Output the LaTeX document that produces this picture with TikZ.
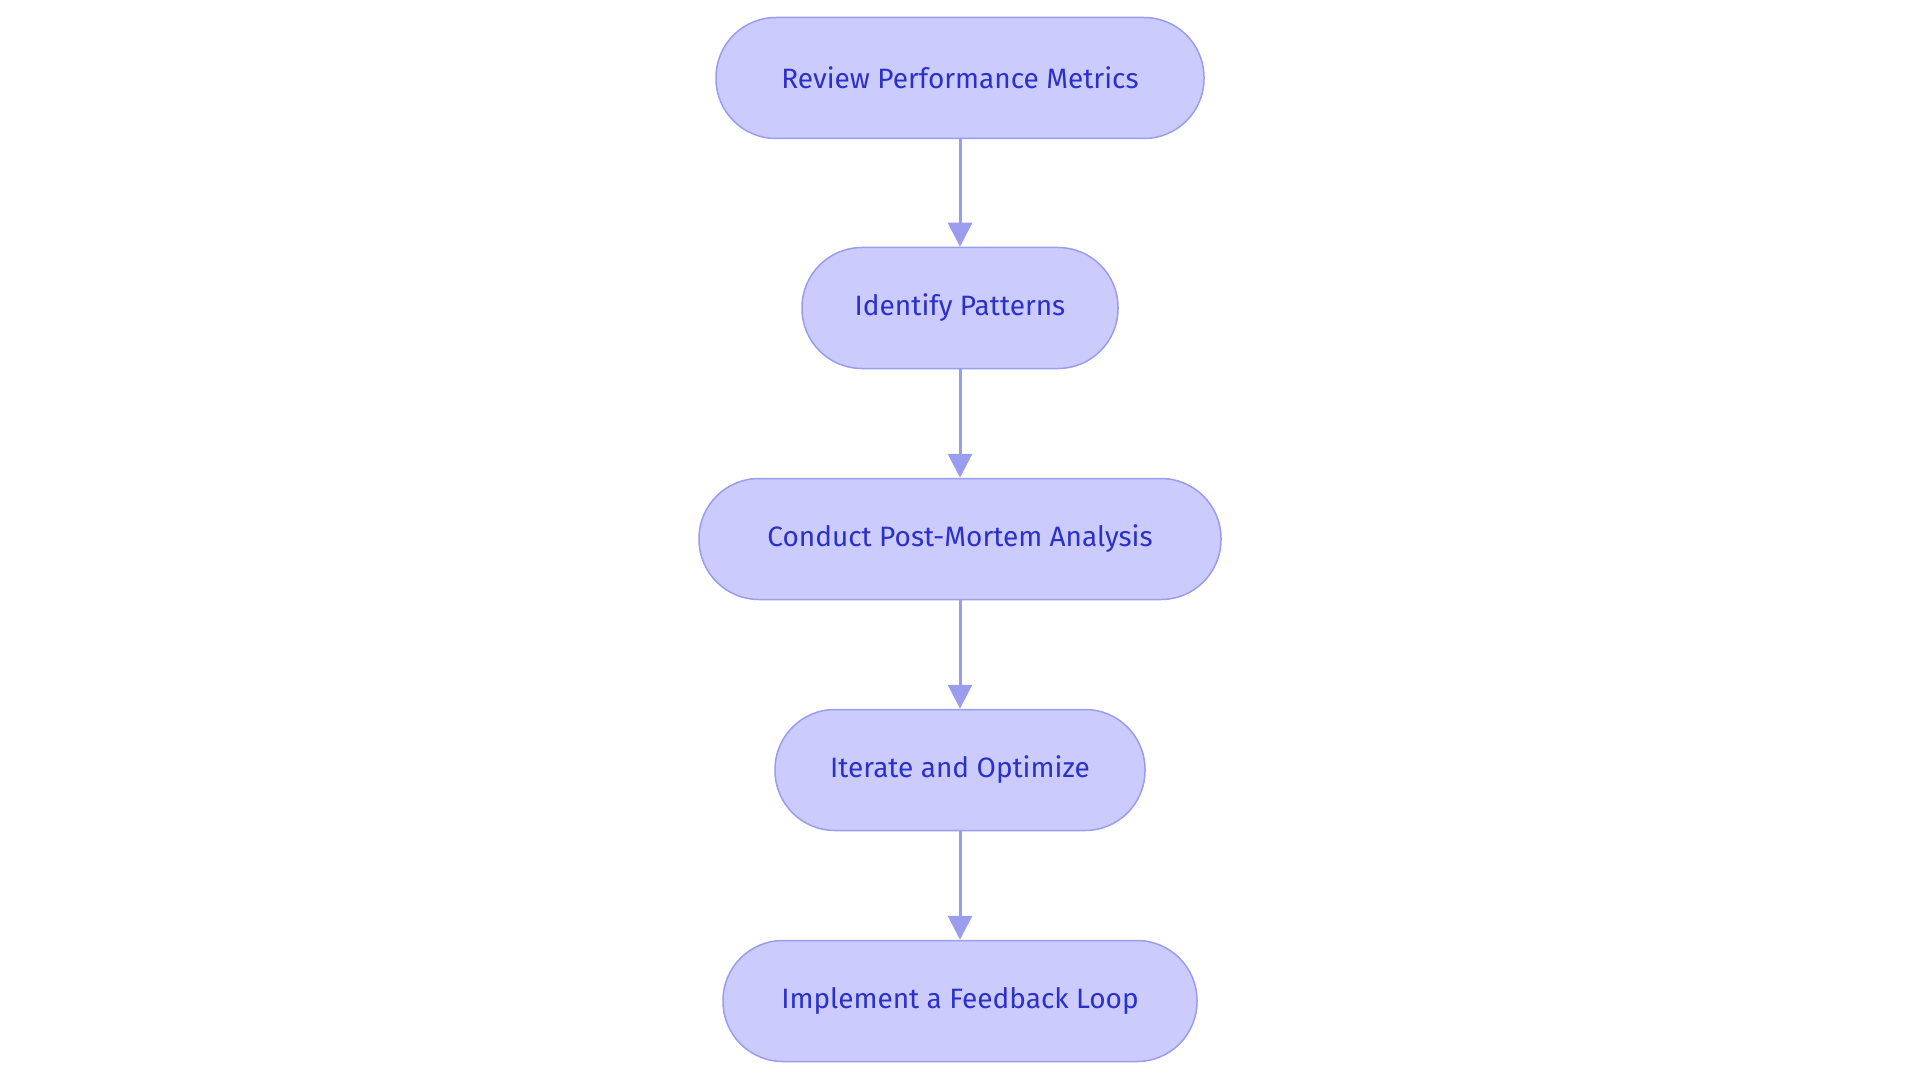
\documentclass[tikz,border=0pt]{standalone}
\usepackage{fontspec}
\setmainfont{Fira Sans}
\usetikzlibrary{arrows.meta}
\definecolor{nfill}{HTML}{CBCBFD}
\definecolor{nline}{HTML}{9A9CEE}
\definecolor{ntext}{HTML}{2B30C8}
\begin{document}
\begin{tikzpicture}[x=1pt,y=-1pt,
  box/.style={draw=nline,line width=1.5pt,fill=nfill,rounded corners=60pt,minimum height=121pt,text=ntext,font=\fontsize{28}{32}\selectfont,inner sep=0pt},
  arr/.style={draw=nline,line width=3pt,-{Triangle[length=24pt,width=24pt]}}]
\useasboundingbox (0,0) rectangle (1920,1083);
\node[box,minimum width=488pt] (a) at (960,78) {Review Performance Metrics};
\node[box,minimum width=316pt] (b) at (960,308) {Identify Patterns};
\node[box,minimum width=522pt] (c) at (960,539) {Conduct Post-Mortem Analysis};
\node[box,minimum width=370pt] (d) at (960,770) {Iterate and Optimize};
\node[box,minimum width=474pt] (e) at (960,1001) {Implement a Feedback Loop};
\draw[arr] (a) -- (b);
\draw[arr] (b) -- (c);
\draw[arr] (c) -- (d);
\draw[arr] (d) -- (e);
\end{tikzpicture}
\end{document}
